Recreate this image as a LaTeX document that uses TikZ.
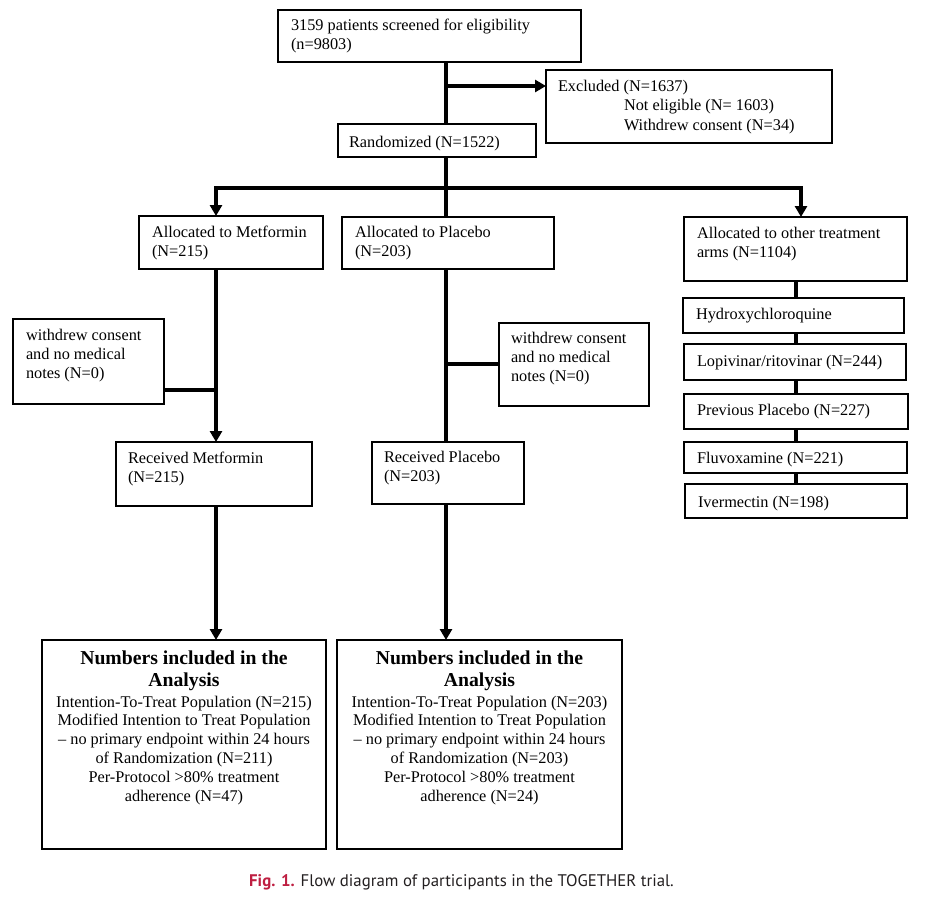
\documentclass[tikz,border=0pt]{standalone}
\usepackage{fontspec}
\setmainfont{Liberation Serif}
\newfontfamily\capfont{PT Sans}
\usetikzlibrary{arrows.meta}
\definecolor{figred}{RGB}{190,30,65}
\definecolor{figtext}{RGB}{35,31,32}
\newcommand\tbx[5]{\parbox[c][#2pt][t]{#1pt}{\raggedright\leftskip=#3pt\relax\fontsize{16.3}{19}\selectfont\rule{0pt}{#4pt}#5\par}}
\newcommand\abx[2]{\parbox[c][209pt][t]{#1pt}{\centering
  {\bfseries\fontsize{19.7}{22}\selectfont\rule{0pt}{24pt}Numbers included in the\\Analysis\par}
  \vspace{2.2pt}
  {\fontsize{16.3}{18.8}\selectfont #2\par}}}
\tikzset{
  bx/.style={draw, line width=1.9pt, inner sep=0pt, outer sep=0pt, anchor=north west},
  ln/.style={line width=3.3pt},
  arr/.style={ln, -{Triangle[length=11pt,width=12pt]}}
}
\begin{document}
\begin{tikzpicture}[x=1pt,y=-1pt]
\useasboundingbox (0,0) rectangle (928,899);
% boxes
\node[bx] (top) at (278,10) {\tbx{303}{52}{13}{21}{3159 patients screened for eligibility\\(n=9803)}};
\node[bx] (excl) at (546,70) {\parbox[c][73pt][t]{286pt}{\raggedright\leftskip=12pt\relax\fontsize{16.3}{19.5}\selectfont\rule{0pt}{21pt}Excluded (N=1637)\\\hspace*{66pt}Not eligible (N= 1603)\\\hspace*{66pt}Withdrew consent (N=34)\par}};
\node[bx] (rand) at (338,124) {\tbx{198}{33}{11}{23}{Randomized (N=1522)}};
\node[bx] (met) at (139,216) {\tbx{184}{53}{13}{21}{Allocated to Metformin\\(N=215)}};
\node[bx] (plc) at (342,217) {\tbx{212}{52}{13}{20}{Allocated to Placebo\\(N=203)}};
\node[bx] (oth) at (684,217) {\tbx{223}{64}{13}{21}{Allocated to other treatment\\arms (N=1104)}};
\node[bx] (wdl) at (13,319) {\tbx{151}{85}{13}{21}{withdrew consent\\and no medical\\notes (N=0)}};
\node[bx] (wdr) at (499,323) {\tbx{150}{83}{12}{20}{withdrew consent\\and no medical\\notes (N=0)}};
\node[bx] (rcm) at (116,442) {\tbx{196}{64}{12}{21}{Received Metformin\\(N=215)}};
\node[bx] (rcp) at (372,442) {\tbx{152}{62}{12}{20}{Received Placebo\\(N=203)}};
\node[bx] (an1) at (42,640) {\abx{284}{Intention-To-Treat Population (N=215)\\Modified Intention to Treat Population\\-- no primary endpoint within 24 hours\\of Randomization (N=211)\\Per-Protocol >80\% treatment\\adherence (N=47)}};
\node[bx] (an2) at (337,640) {\abx{285}{Intention-To-Treat Population (N=203)\\Modified Intention to Treat Population\\-- no primary endpoint within 24 hours\\of Randomization (N=203)\\Per-Protocol >80\% treatment\\adherence (N=24)}};
\node[bx] (hcq) at (683,298) {\tbx{221}{35}{13}{21}{Hydroxychloroquine}};
\node[bx] (lop) at (684,344) {\tbx{222}{36}{13}{22}{Lopivinar/ritovinar (N=244)}};
\node[bx] (pp) at (684,394) {\tbx{224}{35}{13}{21}{Previous Placebo (N=227)}};
\node[bx] (flu) at (684,442) {\tbx{223}{31}{13}{21}{Fluvoxamine (N=221)}};
\node[bx] (ivm) at (685,484) {\tbx{222}{34}{13}{23}{Ivermectin (N=198)}};
% helper coordinates
\coordinate (trunk) at (446,0);
\coordinate (exy) at (0,86);
\coordinate (sL) at (216,188);
\coordinate (sM) at (446,188);
\coordinate (sR) at (801,188);
\coordinate (wly) at (0,390);
\coordinate (wry) at (0,364);
\coordinate (ox) at (796,0);
% connectors
\draw[ln] (top.south -| trunk) -- (rand.north -| trunk);
\draw[arr] (trunk |- exy) -- (excl.west |- exy);
\draw[ln] (rand.south -| trunk) -- (sM);
\draw[ln, line cap=rect] (sL) -- (sR);
\draw[arr] (sL) -- (sL |- met.north);
\draw[arr] (sR) -- (sR |- oth.north);
\draw[ln] (sM) -- (sM |- plc.north);
\draw[arr] (met.south -| sL) -- (rcm.north -| sL);
\draw[ln] (wdl.east |- wly) -- (sL |- wly);
\draw[ln] (plc.south -| sM) -- (rcp.north -| sM);
\draw[ln] (sM |- wry) -- (wdr.west |- wry);
\draw[arr] (rcm.south -| sL) -- (an1.north -| sL);
\draw[arr] (rcp.south -| sM) -- (an2.north -| sM);
\draw[ln] (oth.south -| ox) -- (hcq.north -| ox);
\draw[ln] (hcq.south -| ox) -- (lop.north -| ox);
\draw[ln] (lop.south -| ox) -- (pp.north -| ox);
\draw[ln] (pp.south -| ox) -- (flu.north -| ox);
\draw[ln] (flu.south -| ox) -- (ivm.north -| ox);
% caption
\node[anchor=base west, inner sep=0pt, text=figtext] (cap) at (249,886) {\capfont\fontsize{16.8}{20}\selectfont\textcolor{figred}{\bfseries Fig. 1.} Flow diagram of participants in the TOGETHER trial.};
\end{tikzpicture}
\end{document}
